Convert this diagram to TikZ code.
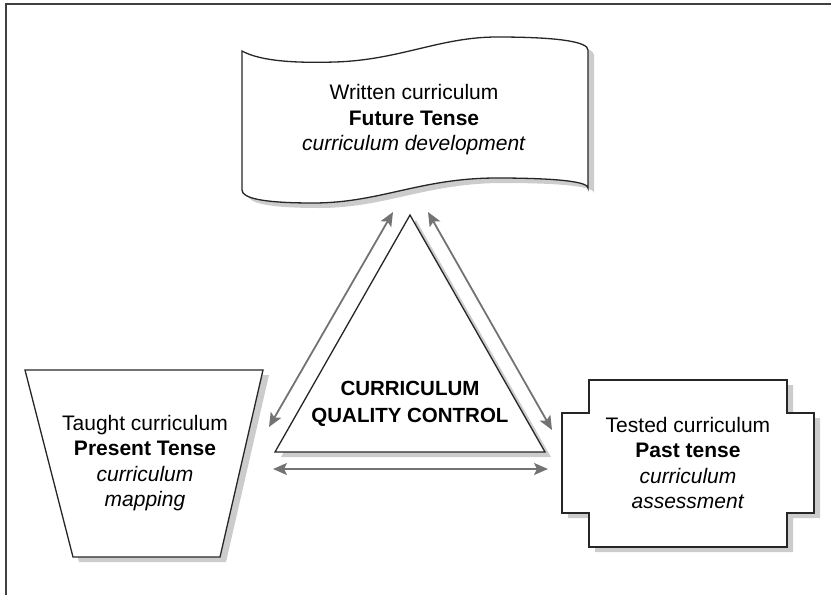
\documentclass[tikz,border=0pt]{standalone}
\usepackage{fontspec}
\setmainfont{Liberation Sans}
\usetikzlibrary{arrows.meta}

\begin{document}
\begin{tikzpicture}[x=1pt,y=-1pt,
  outline/.style={draw=black!85,line width=1.3pt,fill=white,line join=miter},
  shade/.style={fill=black!20,draw=none},
  link/.style={{Stealth[length=14pt,width=12pt,inset=3pt]}-{Stealth[length=14pt,width=12pt,inset=3pt]},draw=black!55,line width=1.8pt},
  txt/.style={align=center,font=\fontsize{21}{25.5}\selectfont}]
\useasboundingbox (0,0) rectangle (831,595);
\draw[line width=1.5pt,black!75] (6,600)--(6,4)--(840,4);
% written curriculum (wave)
\foreach \dx/\dy/\s in {6/5/shade,0/0/outline}
  \draw[\s,shift={(\dx,\dy)}] (242,51) .. controls (262,62) and (300,63) .. (335,62)
    .. controls (400,60) and (440,37) .. (497,37) .. controls (560,37) and (588,42) .. (588,50)
    -- (588,188) .. controls (588,180) and (540,178) .. (497,178)
    .. controls (420,178) and (380,203) .. (313,203) .. controls (262,203) and (242,198) .. (242,190) -- cycle;
% taught curriculum (trapezoid)
\foreach \dx/\dy/\s in {6/5/shade,0/0/outline}
  \draw[\s,shift={(\dx,\dy)}] (25,370)--(263,370)--(220,557)--(73,557)--cycle;
% tested curriculum
\foreach \dx/\dy/\s in {6/5/shade,0/0/outline}
  \draw[\s,shift={(\dx,\dy)}] (589,380)--(787,380)--(787,413)--(814,413)--(814,513)
    --(787,513)--(787,547)--(589,547)--(589,513)--(562,513)--(562,413)--(589,413)--cycle;
% quality control triangle
\foreach \dx/\dy/\s in {6/5/shade,0/0/outline}
  \draw[\s,shift={(\dx,\dy)}] (410,215)--(545,452)--(275,452)--cycle;

\node[txt] (written) at (414,120) {Written curriculum\\\textbf{Future Tense}\\\textit{curriculum development}};
\node[txt] (taught) at (145,463) {Taught curriculum\\\textbf{Present Tense}\\\textit{curriculum}\\\textit{mapping}};
\node[txt] (tested) at (688,463) {Tested curriculum\\\textbf{Past tense}\\\textit{curriculum}\\\textit{assessment}};
\node[txt,font=\fontsize{20.5}{27}\selectfont\bfseries] (control) at (410,404) {CURRICULUM\\QUALITY CONTROL};

\coordinate (wl) at (393,212); \coordinate (tl) at (269,427);
\coordinate (wr) at (428,212); \coordinate (tr) at (552,430);
\coordinate (bl) at (273,469); \coordinate (br) at (548,469);
\foreach \a/\b in {wl/tl,wr/tr,bl/br}
  \draw[link] (\a)--(\b);
\end{tikzpicture}
\end{document}
